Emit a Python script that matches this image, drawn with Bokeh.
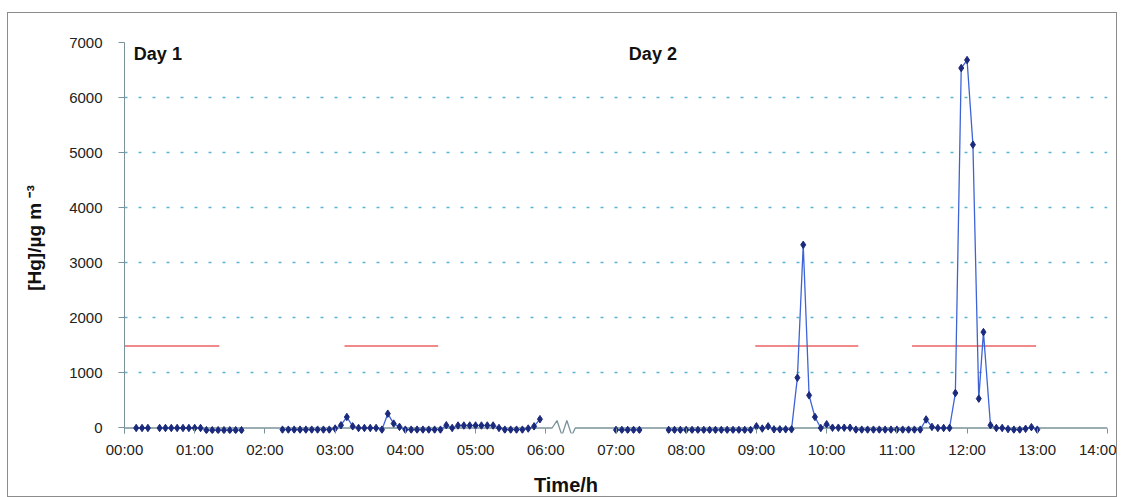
import numpy as np
from bokeh.plotting import figure
from bokeh.models import FixedTicker, Label
from bokeh.embed import file_html
from bokeh.resources import INLINE

# ---------------- data ----------------
x_tick_labels = ["00:00", "01:00", "02:00", "03:00", "04:00", "05:00", "06:00", "07:00",
                 "08:00", "09:00", "10:00", "11:00", "12:00", "13:00", "14:00"]
y_ticks = [0, 1000, 2000, 3000, 4000, 5000, 6000, 7000]

# Day 1 (None = no measurement)
day1_times = ["00:10", "00:15", "00:20", "00:25",
              "00:30", "00:35", "00:40", "00:45", "00:50", "00:55", "01:00", "01:05",
              "01:10", "01:15", "01:20", "01:25", "01:30", "01:35", "01:40", "01:45",
              "02:15", "02:20", "02:25", "02:30", "02:35", "02:40", "02:45", "02:50", "02:55",
              "03:00", "03:05", "03:10", "03:15", "03:20", "03:25", "03:30", "03:35", "03:40",
              "03:45", "03:50", "03:55", "04:00", "04:05", "04:10", "04:15", "04:20", "04:25",
              "04:30", "04:35", "04:40", "04:45", "04:50", "04:55", "05:00", "05:05", "05:10",
              "05:15", "05:20", "05:25", "05:30", "05:35", "05:40", "05:45", "05:50", "05:55"]
day1_hg = [0, 0, 0, None,
           0, 0, 0, 0, 0, 0, 0, 0,
           -40, -40, -40, -40, -40, -40, -40, None,
           -30, -30, -30, -30, -30, -30, -30, -30, -30,
           -10, 50, 200, 30, 0, 0, 0, 0, -30,
           260, 80, 20, -30, -30, -30, -30, -30, -30,
           -30, 50, 0, 45, 45, 45, 45, 45, 45,
           45, 0, -30, -30, -30, -30, -10, 30, 160]

# Day 2
day2_times = ["07:00", "07:05", "07:10", "07:15", "07:20", "07:25",
              "07:45", "07:50", "07:55", "08:00", "08:05", "08:10", "08:15", "08:20", "08:25",
              "08:30", "08:35", "08:40", "08:45", "08:50", "08:55", "09:00", "09:05", "09:10",
              "09:15", "09:20", "09:25", "09:30", "09:35", "09:40", "09:45", "09:50", "09:55",
              "10:00", "10:05", "10:10", "10:15", "10:20", "10:25", "10:30", "10:35", "10:40",
              "10:45", "10:50", "10:55", "11:00", "11:05", "11:10", "11:15", "11:20", "11:25",
              "11:30", "11:35", "11:40", "11:45", "11:50", "11:55", "12:00", "12:05", "12:10",
              "12:14", "12:20", "12:25", "12:30", "12:35", "12:40", "12:45", "12:50", "12:55",
              "13:00"]
day2_hg = [-35, -35, -35, -35, -35, None,
           -35, -35, -35, -35, -35, -35, -35, -35, -35,
           -35, -35, -35, -35, -35, -35, 30, -10, 30,
           -25, -25, -25, -25, 914, 3326, 593, 200, 0,
           67, 5, 5, 5, 5, -30, -30, -30, -30,
           -30, -30, -30, -30, -30, -30, -30, -30, 155,
           20, 0, 0, 0, 635, 6536, 6681, 5145, 533,
           1741, 50, 0, 0, -20, -30, -30, -15, 15,
           -30]

# red reference level and the periods it spans
ref_level = 1490
ref_starts = ["00:00", "03:08", "08:59", "11:13"]
ref_ends = ["01:21", "04:28", "10:27", "12:59"]

day_labels = ["Day 1", "Day 2"]
day_label_times = ["00:08", "07:11"]

# axis break (zig-zag) on the time axis, hours / Hg units
break_h = [6.09, 6.16, 6.23, 6.30, 6.37, 6.42]
break_y = [0, 135, -135, 135, -135, 0]


def hours(t):
    h, m = t.split(":")
    return int(h) + int(m) / 60.0


def series(times, vals):
    x = np.array([hours(t) for t in times])
    y = np.array([np.nan if v is None else v for v in vals], dtype=float)
    return x, y


FONT = "Liberation Sans"
AXIS_COL = "#7a9299"

p = figure(width=1110, height=485, x_range=(0, 14), y_range=(-100, 7000),
           output_backend="svg", toolbar_location=None,
           min_border_left=116, min_border_right=11, min_border_top=29, min_border_bottom=63)
p.styles = {"border": "1px solid #8c8c8c", "box-sizing": "border-box",
            "margin-left": "7px", "margin-top": "12px"}
p.outline_line_color = None
p.background_fill_color = "white"
p.border_fill_color = "white"

# grid
p.xgrid.visible = False
p.ygrid.ticker = FixedTicker(ticks=y_ticks[1:])
p.ygrid.grid_line_color = "#5ab4d6"
p.ygrid.grid_line_dash = "3 11"
p.ygrid.grid_line_width = 1.5

# y axis
p.yaxis.ticker = FixedTicker(ticks=y_ticks)
p.yaxis.axis_line_color = AXIS_COL
p.yaxis.major_tick_line_color = AXIS_COL
p.yaxis.major_tick_out = 6
p.yaxis.major_tick_in = 0
p.yaxis.minor_tick_line_color = None
p.yaxis.major_label_standoff = 16
p.yaxis.major_label_text_font = FONT
p.yaxis.major_label_text_font_size = "15px"
p.yaxis.major_label_text_color = "#222222"
p.yaxis.axis_label = "[Hg]/µg m ⁻³"
p.yaxis.axis_label_text_font = FONT
p.yaxis.axis_label_text_font_style = "bold"
p.yaxis.axis_label_text_font_size = "19px"
p.yaxis.axis_label_text_color = "#111111"
p.yaxis.axis_label_standoff = 21

# x axis (title shifted left of centre with trailing no-break spaces, as in the original)
p.xaxis.ticker = FixedTicker(ticks=list(range(len(x_tick_labels))))
p.xaxis.major_label_overrides = {i: lab for i, lab in enumerate(x_tick_labels)}
p.xaxis.axis_line_color = None
p.xaxis.major_tick_line_color = AXIS_COL
p.xaxis.major_tick_in = 5
p.xaxis.major_tick_out = 0
p.xaxis.minor_tick_line_color = None
p.xaxis.major_label_standoff = 7
p.xaxis.major_label_text_font = FONT
p.xaxis.major_label_text_font_size = "15px"
p.xaxis.major_label_text_color = "#222222"
p.xaxis.axis_label = "Time/h" + "\u00a0" * 18
p.xaxis.axis_label_text_font = FONT
p.xaxis.axis_label_text_font_style = "bold"
p.xaxis.axis_label_text_font_size = "20px"
p.xaxis.axis_label_text_color = "#111111"
p.xaxis.axis_label_standoff = 13

# zero line with axis break
p.line([0] + break_h + [14], [0] + break_y + [0], line_color=AXIS_COL, line_width=1.3)

# red reference segments
p.segment(x0=[hours(t) for t in ref_starts], x1=[hours(t) for t in ref_ends],
          y0=[ref_level] * len(ref_starts), y1=[ref_level] * len(ref_ends),
          line_color="#f08a8a", line_width=2)

# series
for times, vals in ((day1_times, day1_hg), (day2_times, day2_hg)):
    x, y = series(times, vals)
    p.line(x, y, line_color="#3d63d6", line_width=1.3)
    p.scatter(x, y, marker="diamond", size=7.5, fill_color="#1b2a7b", line_color="#1b2a7b")

for lab, t in zip(day_labels, day_label_times):
    p.add_layout(Label(x=hours(t), y=6613, text=lab, text_font=FONT, text_font_style="bold",
                       text_font_size="18px", text_color="#111111"))

open("out.html", "w").write(file_html(p, INLINE))
